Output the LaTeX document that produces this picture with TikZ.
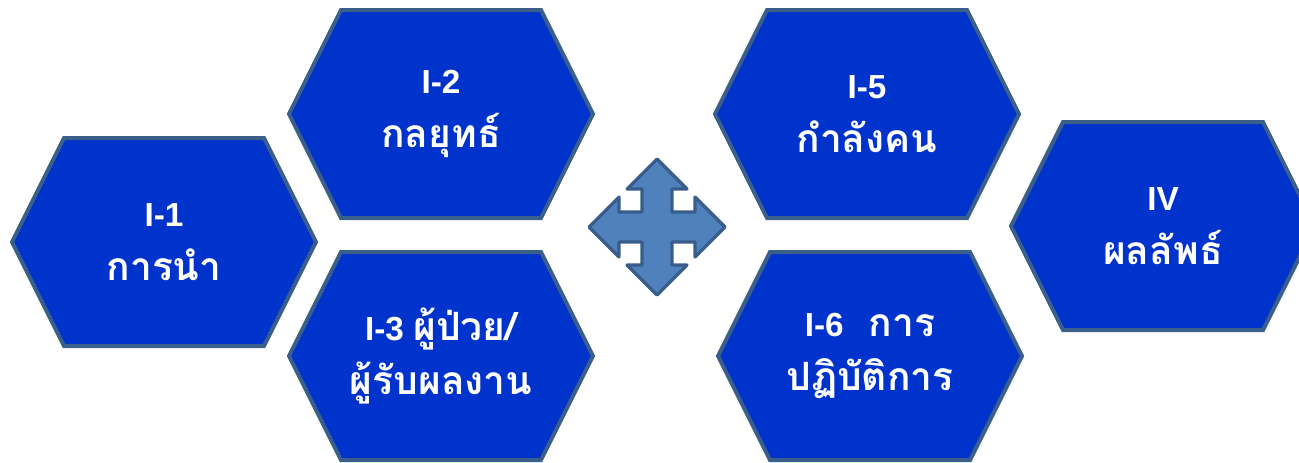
\documentclass[tikz,border=0pt]{standalone}
\usepackage{fontspec}
\setmainfont{Liberation Sans}
\newfontfamily\thaifont[Script=Thai,Scale=1.17]{Loma}
\usetikzlibrary{positioning}
\definecolor{hexblue}{RGB}{0,51,204}
\definecolor{hexedge}{RGB}{58,95,139}
\definecolor{hubfill}{RGB}{79,129,189}
\definecolor{hubedge}{RGB}{56,93,138}

\begin{document}
\begin{tikzpicture}[
      x=0.75pt, y=-0.75pt,
      hexcell/.style={draw=hexedge, fill=hexblue, line width=3pt, line join=miter},
      hexlabel/.style={text=white, align=center, inner sep=0pt, font=\fontsize{25}{40}\selectfont\bfseries},
      hubarrow/.style={draw=hubedge, fill=hubfill, line width=2.4pt, line join=round}
    ]
      \useasboundingbox (0,0) rectangle (1299,462);

      % hexagon cells: name / centre x / centre y / label
      \foreach \name/\cx/\cy/\txt in {
          lead/164/242/{I-1\\{\thaifont การนำ}},
          strat/441/114/{I-2\\{\thaifont กลยุทธ์}},
          patient/441/356/{I-3 {\thaifont ผู้ป่วย/}\\{\thaifont ผู้รับผลงาน}},
          staff/867/114/{I-5\\{\thaifont กำลังคน}},
          ops/870/356/{I-6\hspace{0.75em}{\thaifont การ}\\{\thaifont ปฏิบัติการ}},
          result/1163/226/{IV\\{\thaifont ผลลัพธ์}}} {
        \draw[hexcell] (\cx,\cy) +(-152,0) -- +(-100,-104) -- +(100,-104)
          -- +(152,0) -- +(100,104) -- +(-100,104) -- cycle;
        \node[hexlabel] (\name) at (\cx,\cy) {\txt};
      }

      % four-way arrow in the middle
      \coordinate (hub) at (657,227);
      \draw[hubarrow, shift={(hub)}] (0,-68) -- (30,-38) -- (15,-38) -- (15,-15)
        -- (38,-15) -- (38,-30) -- (68,0) -- (38,30) -- (38,15) -- (15,15)
        -- (15,38) -- (30,38) -- (0,68) -- (-30,38) -- (-15,38) -- (-15,15)
        -- (-38,15) -- (-38,30) -- (-68,0) -- (-38,-30) -- (-38,-15) -- (-15,-15)
        -- (-15,-38) -- (-30,-38) -- cycle;
    \end{tikzpicture}
\end{document}
